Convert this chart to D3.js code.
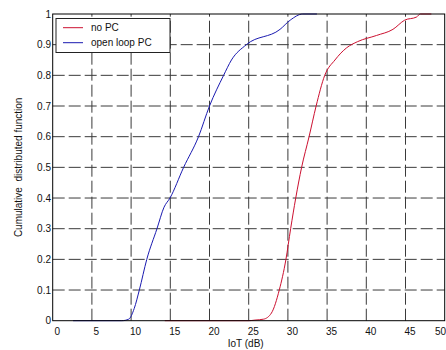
<!DOCTYPE html>
<html>
<head>
<meta charset="utf-8">
<script src="https://cdn.jsdelivr.net/npm/d3@7"></script>
<style>
  body { margin: 0; background: #fff; }
  svg { display: block; font-family: "Liberation Sans", Arial, sans-serif; }
</style>
</head>
<body>
<svg id="chart" width="446" height="350"></svg>
<script>
// IoT values (dB) and CDF levels
const noPcIot = [14.3, 25.0, 25.8, 26.9, 27.9, 28.9, 29.75, 30.35, 31.0, 31.75, 32.7, 33.6, 34.7, 36.0, 37.5, 38.9, 41.3, 43.4, 44.9, 46.4, 46.9, 48.3];
const noPcCdf = [0, 0, 0.002, 0.005, 0.025, 0.1, 0.2, 0.3, 0.4, 0.5, 0.6, 0.7, 0.8, 0.85, 0.89, 0.91, 0.93, 0.95, 0.98, 0.99, 1, 1];
const olPcIot = [2.6, 8.8, 9.7, 10.4, 11.05, 12.0, 13.3, 14.2, 14.96, 16.7, 18.6, 20.0, 21.8, 22.8, 24.7, 29.0, 30.3, 31.9, 33.7];
const olPcCdf = [0, 0, 0.005, 0.04, 0.1, 0.2, 0.3, 0.37, 0.4, 0.5, 0.6, 0.7, 0.8, 0.85, 0.9, 0.95, 0.98, 1, 1];
const seriesNames = ['no PC', 'open loop PC'];
const xTicks = [0, 5, 10, 15, 20, 25, 30, 35, 40, 45, 50];
const yTicks = [0, 0.1, 0.2, 0.3, 0.4, 0.5, 0.6, 0.7, 0.8, 0.9, 1];

const svg = d3.select('#chart');
const plotL = 52.7, plotR = 444.7, plotT = 14, plotB = 320.7;

const x = d3.scaleLinear().domain([0, 50]).range([plotL, plotR]);
const y = d3.scaleLinear().domain([0, 1]).range([plotB, plotT]);

// grid
const grid = svg.append('g')
    .attr('stroke', '#3a3a3a')
    .attr('stroke-width', 1)
    .attr('stroke-dasharray', '12,4');

grid.selectAll('line.v')
  .data(xTicks.slice(1, -1))
  .join('line')
    .attr('class', 'v')
    .attr('x1', d => x(d)).attr('x2', d => x(d))
    .attr('y1', plotB).attr('y2', plotT);

grid.selectAll('line.h')
  .data(yTicks.slice(1, -1))
  .join('line')
    .attr('class', 'h')
    .attr('x1', plotL).attr('x2', plotR)
    .attr('y1', d => y(d)).attr('y2', d => y(d));

// curves
const line = d3.line()
    .curve(d3.curveMonotoneX)
    .x(d => x(d[0]))
    .y(d => y(d[1]));

const series = [
  { name: seriesNames[0], color: '#cc1030', pts: d3.zip(noPcIot, noPcCdf) },
  { name: seriesNames[1], color: '#1a1ab0', pts: d3.zip(olPcIot, olPcCdf) }
];

svg.append('g')
  .selectAll('path')
  .data(series)
  .join('path')
    .attr('fill', 'none')
    .attr('stroke', d => d.color)
    .attr('stroke-width', 1)
    .attr('d', d => line(d.pts));

// axes box
svg.append('rect')
    .attr('x', plotL).attr('y', plotT)
    .attr('width', plotR - plotL).attr('height', plotB - plotT)
    .attr('fill', 'none')
    .attr('stroke', '#000')
    .attr('stroke-width', 1);

// tick labels (last one kept inside the window)
svg.append('g')
  .selectAll('text')
  .data(xTicks)
  .join('text')
    .attr('x', (d, i) => i === xTicks.length - 1 ? 446 : x(d) + 4.5)
    .attr('y', 335)
    .attr('text-anchor', (d, i) => i === xTicks.length - 1 ? 'end' : 'middle')
    .attr('font-size', 10)
    .attr('fill', '#111')
    .text(d => d);

svg.append('g')
  .selectAll('text')
  .data(yTicks)
  .join('text')
    .attr('x', 51)
    .attr('y', d => y(d))
    .attr('dy', '0.35em')
    .attr('text-anchor', 'end')
    .attr('font-size', 10)
    .attr('fill', '#111')
    .text(d => d);

// axis titles
svg.append('text')
    .attr('x', (plotL + plotR) / 2 - 3)
    .attr('y', 347)
    .attr('text-anchor', 'middle')
    .attr('font-size', 10)
    .attr('fill', '#111')
    .text('IoT (dB)');

svg.append('text')
    .attr('transform', `translate(22,${(plotT + plotB) / 2}) rotate(-90)`)
    .attr('text-anchor', 'middle')
    .attr('font-size', 10)
    .attr('fill', '#111')
    .style('white-space', 'pre')
    .text('Cumulative  distributed function');

// legend
const legend = svg.append('g');
legend.append('rect')
    .attr('x', 56).attr('y', 18.5)
    .attr('width', 114).attr('height', 34)
    .attr('fill', '#fff')
    .attr('stroke', '#222')
    .attr('stroke-width', 1);

const items = legend.selectAll('g')
  .data(series)
  .join('g')
    .attr('transform', (d, i) => `translate(0,${27.7 + i * 15})`);

items.append('line')
    .attr('x1', 63).attr('x2', 83)
    .attr('stroke', d => d.color)
    .attr('stroke-width', 1);

items.append('text')
    .attr('x', 91)
    .attr('dy', '0.35em')
    .attr('font-size', 10)
    .attr('fill', '#111')
    .text(d => d.name);
</script>
</body>
</html>
